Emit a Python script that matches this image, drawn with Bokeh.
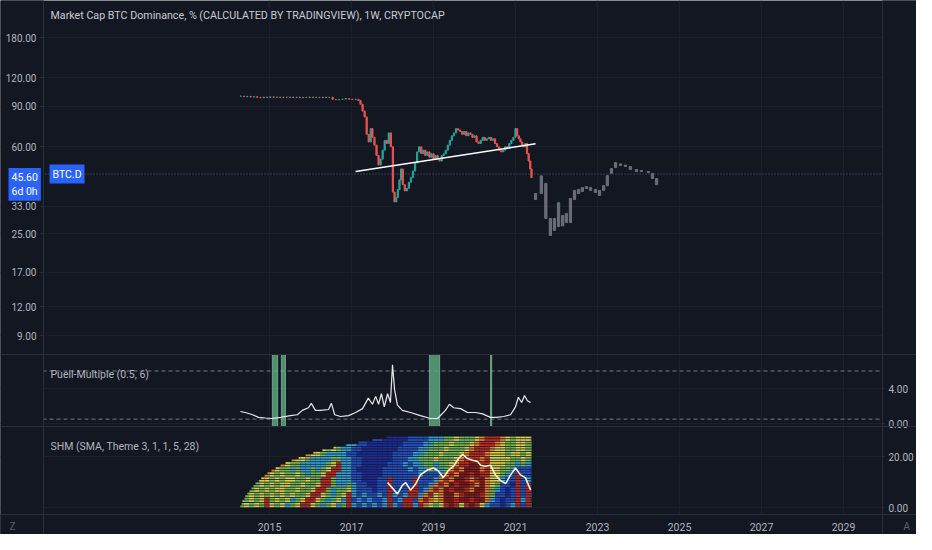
import math
from bokeh.plotting import figure
from bokeh.models import (Range1d, LinearScale, LinearAxis, FixedTicker, Span, Label,
                          Grid, ColumnDataSource, PrintfTickFormatter)
from bokeh.embed import file_html
from bokeh.resources import INLINE

# ---------------- data ----------------
title_text = "Market Cap BTC Dominance, % (CALCULATED BY TRADINGVIEW), 1W, CRYPTOCAP"
price_ticks = [9, 12, 17, 25, 33, 60, 90, 120, 180]
year_ticks = [2015, 2017, 2019, 2021, 2023, 2025, 2027, 2029]
last_value = 45.60
last_value_text = "45.60\n6d 0h"
symbol = "BTC.D"

btc_t = [2014.30, 2014.38, 2014.46, 2014.54, 2014.62, 2014.70, 2014.78, 2014.86, 2014.94,
         2015.02, 2015.10, 2015.18, 2015.26, 2015.34, 2015.42, 2015.50, 2015.58, 2015.66,
         2015.74, 2015.82, 2015.90, 2015.98, 2016.06, 2016.14, 2016.22, 2016.30, 2016.38,
         2016.46, 2016.54, 2016.62, 2016.70, 2016.78, 2016.86, 2016.94, 2017.02, 2017.10,
         2017.17, 2017.22, 2017.27, 2017.32, 2017.37, 2017.42, 2017.47, 2017.51, 2017.56,
         2017.61, 2017.66, 2017.71, 2017.76, 2017.81, 2017.86, 2017.91, 2017.96, 2018.01,
         2018.05, 2018.09, 2018.13, 2018.17, 2018.21, 2018.25, 2018.30, 2018.35, 2018.40,
         2018.45, 2018.50, 2018.55, 2018.60, 2018.65, 2018.70, 2018.75, 2018.80, 2018.85,
         2018.90, 2018.95, 2019.00, 2019.05, 2019.10, 2019.15, 2019.20, 2019.25, 2019.30,
         2019.35, 2019.40, 2019.45, 2019.50, 2019.55, 2019.60, 2019.65, 2019.70, 2019.75,
         2019.80, 2019.85, 2019.90, 2019.95, 2020.00, 2020.05, 2020.10, 2020.15, 2020.20,
         2020.25, 2020.30, 2020.35, 2020.40, 2020.45, 2020.50, 2020.55, 2020.60, 2020.65,
         2020.70, 2020.75, 2020.80, 2020.85, 2020.90, 2020.95, 2021.00, 2021.04, 2021.08,
         2021.12, 2021.16, 2021.20, 2021.24, 2021.28, 2021.32, 2021.36, 2021.39]
btc_close = [99.8, 99.2, 99.6, 99.0, 99.3, 98.6, 98.2, 98.9, 98.5,
             99.1, 98.7, 98.9, 98.4, 98.8, 98.6, 98.9, 98.5, 98.8,
             98.4, 98.7, 98.5, 98.9, 98.5, 98.7, 98.4, 98.8, 98.5,
             98.7, 96.6, 96.2, 96.6, 96.9, 97.5, 96.8, 96.4, 96.7,
             95.5, 92.0, 86.0, 81.0, 68.0, 63.0, 72.0, 66.0, 61.0,
             55.0, 50.0, 53.0, 58.0, 64.0, 62.0, 69.0, 60.0, 38.0,
             34.5, 36.0, 39.0, 43.0, 48.0, 41.0, 38.5, 39.5, 42.0,
             44.0, 47.0, 51.0, 57.0, 60.0, 56.0, 58.0, 55.0, 57.0,
             54.0, 56.0, 53.0, 55.0, 53.0, 52.0, 55.0, 56.0, 58.0,
             61.0, 64.0, 67.0, 69.0, 72.0, 71.0, 70.0, 68.0, 70.0,
             67.0, 69.0, 68.0, 66.0, 67.0, 63.0, 62.0, 64.0, 66.0,
             64.0, 65.0, 66.0, 64.0, 65.0, 62.0, 60.0, 58.0, 57.0,
             58.0, 60.0, 59.0, 62.0, 64.0, 66.0, 72.0, 67.0, 65.0,
             63.0, 61.0, 60.0, 62.0, 56.0, 52.0, 48.0, 44.0]

proj_t = [2021.49, 2021.63, 2021.74, 2021.85, 2021.95, 2022.05, 2022.15, 2022.24, 2022.34,
          2022.44, 2022.54, 2022.63, 2022.73, 2022.83, 2022.95, 2023.05, 2023.15, 2023.24,
          2023.34, 2023.44, 2023.56, 2023.68, 2023.80, 2023.95, 2024.07, 2024.24, 2024.34,
          2024.44]
proj_hi = [37.5, 44.8, 41.5, 29.2, 29.2, 34.2, 30.1, 30.7, 35.7,
           38.7, 39.1, 39.8, 40.2, 39.8, 39.1, 38.7, 40.6, 44.9,
           48.2, 51.2, 50.5, 49.9, 49.2, 47.7, 47.3, 46.8, 45.9, 43.6]
proj_lo = [35.3, 37.5, 29.2, 24.6, 25.9, 26.9, 27.1, 28.0, 28.0,
           35.3, 37.5, 38.3, 39.4, 38.7, 37.9, 36.8, 38.7, 40.6,
           46.0, 48.7, 49.7, 49.2, 47.7, 46.8, 46.8, 46.3, 43.6, 41.0]

trend_t = [2017.10, 2021.49]
trend_v = [46.8, 61.8]

puell_title = "Puell-Multiple (0.5, 6)"
puell_levels = [6.0, 0.5]
puell_ticks = [0, 4]
puell_t = [2014.29, 2014.41, 2014.59, 2014.73, 2014.90, 2015.07, 2015.27, 2015.51, 2015.68,
           2015.80, 2015.95, 2016.02, 2016.12, 2016.24, 2016.44, 2016.51, 2016.59, 2016.73,
           2016.93, 2017.10, 2017.27, 2017.41, 2017.51, 2017.59, 2017.66, 2017.73, 2017.80,
           2017.88, 2017.95, 2018.00, 2018.05, 2018.12, 2018.24, 2018.44, 2018.68, 2018.93,
           2019.10, 2019.29, 2019.39, 2019.49, 2019.66, 2019.83, 2020.02, 2020.20, 2020.29,
           2020.39, 2020.54, 2020.71, 2020.88, 2021.00, 2021.07, 2021.15, 2021.22, 2021.29,
           2021.37]
puell_v = [1.37, 1.26, 1.0, 0.7, 0.63, 0.57, 0.7, 0.9, 1.0,
           1.5, 1.8, 2.3, 1.5, 1.5, 1.6, 2.3, 1.0, 0.8,
           0.9, 1.26, 1.7, 2.9, 2.2, 3.1, 2.2, 3.4, 1.9,
           3.4, 2.4, 6.7, 3.9, 2.1, 1.5, 1.26, 0.9, 0.57,
           0.57, 1.5, 2.2, 1.8, 1.7, 1.26, 1.26, 1.1, 0.9,
           0.7, 0.7, 0.8, 1.0, 1.9, 3.0, 2.4, 3.2, 2.6,
           2.4]
puell_band_start = [2015.07, 2015.29, 2018.90, 2020.39]
puell_band_end = [2015.20, 2015.39, 2019.15, 2020.42]

shm_title = "SHM (SMA, Theme 3, 1, 1, 5, 28)"
shm_ticks = [0, 20]
shm_t = [2017.88, 2018.02, 2018.12, 2018.24, 2018.32, 2018.44, 2018.56, 2018.68, 2018.85,
         2019.00, 2019.12, 2019.24, 2019.37, 2019.49, 2019.61, 2019.71, 2019.83, 2019.95,
         2020.07, 2020.15, 2020.27, 2020.39, 2020.51, 2020.63, 2020.76, 2020.88, 2021.00,
         2021.12, 2021.24, 2021.37]
shm_v = [9.8, 7.2, 5.3, 8.7, 9.8, 6.8, 9.1, 12.8, 14.7,
         15.5, 14.3, 11.7, 14.7, 16.2, 19.2, 20.8, 19.2, 18.5,
         18.1, 16.6, 16.2, 16.6, 12.8, 10.6, 9.4, 12.8, 15.5,
         12.8, 11.7, 6.8]
shm_end = 2021.39
# first year of each of the 28 rows (row 1 = bottom)
shm_row_start = [2014.29, 2014.32, 2014.34, 2014.39, 2014.41, 2014.46, 2014.51, 2014.56,
                 2014.61, 2014.66, 2014.71, 2014.80, 2014.88, 2014.95, 2015.05, 2015.15,
                 2015.27, 2015.39, 2015.54, 2015.71, 2015.88, 2016.07, 2016.29, 2016.56,
                 2016.85, 2017.17, 2017.51, 2017.85]
shm_first_col = 2014.25
shm_col_step = 0.125
# colour level per 1/8-year column, one string per pair of rows, bottom first
shm_levels = [
    "3434354342" "3455432342" "3521212125" "2155256434" "5754575421" "10125152",
    "4343453434" "2345543234" "2512121125" "1255165646" "7757757762" "10115251",
    "3343434343" "4334554323" "4521211215" "2125526546" "7765777563" "11015152",
    "3334343443" "3433455323" "3421110115" "1115512656" "7577567763" "21015151",
    "3333434344" "3343345532" "2321100115" "1111511265" "6757756764" "31105151",
    "0000443434" "4334335532" "2211000115" "1111511126" "5677565764" "42115121",
    "0000064343" "3432334552" "2211000011" "1111121112" "6567757554" "43215111",
    "0000006433" "2322323455" "2210000011" "1112122322" "3656777654" "43321111",
    "0000000064" "3322222345" "2211000001" "1121223323" "3465577554" "44332322",
    "0000000000" "6443222233" "2211000000" "1112233343" "3346555654" "44433433",
    "0000000000" "0006443222" "2110000000" "1111223334" "3334655564" "44344344",
    "0000000000" "0000004343" "2211000000" "0111122333" "4333465556" "44334434",
    "0000000000" "0000000000" "0221100000" "0011112233" "3433346555" "64334434",
    "0000000000" "0000000000" "0000001100" "0001111222" "3343334655" "56434443",
]
shm_palette = ["#1c2c9c", "#2452c6", "#35a3d6", "#74ba52", "#d8d04c", "#c42b20",
               "#e5842d", "#8e1814"]

# ---------------- layout / style ----------------
BG = "#131722"
TXT = "#b2b5be"
GRID = "#1b1f2b"
SEP = "#2a2e39"
FONT = "Roboto"
UP, DOWN = "#26a69a", "#ef5350"

W, H = 916, 534
FL, FR, FB = 43, 882, 514          # plotting-area edges (px)
MAIN_BOTTOM, PUELL_BOTTOM = 354, 426

X_ANCHOR_PX, PX_PER_YEAR = 269, 41.0
def xval(px):
    return year_ticks[0] + (px - X_ANCHOR_PX) / PX_PER_YEAR

HI_PX, LO_PX = 37, 335
PPD = (LO_PX - HI_PX) / math.log10(price_ticks[-1] / price_ticks[0])
def main_val(py):
    return 10 ** (math.log10(price_ticks[-1]) - (py - HI_PX) / PPD)

P0_PX, P_PPU = 423, 8.75
def puell_val(py):
    return (P0_PX - py) / P_PPU

S0_PX, S_PPU = 507, 2.55
def shm_val(py):
    return (S0_PX - py) / S_PPU
def shm_px(v):
    return S0_PX - v * S_PPU

# the frame covers the whole canvas; axes are pinned at the pane edges
p = figure(width=W, height=H, x_range=Range1d(xval(0), xval(W)),
           y_range=Range1d(main_val(H), main_val(0)), y_axis_type="log",
           output_backend="svg", toolbar_location=None, min_border=0,
           background_fill_color=BG, border_fill_color=BG, outline_line_color=None)
p.extra_y_ranges = {"puell": Range1d(puell_val(H), puell_val(0)),
                    "shm": Range1d(shm_val(H), shm_val(0))}
p.extra_y_scales = {"puell": LinearScale(), "shm": LinearScale()}

# left (price) axis
ya = p.yaxis[0]
ya.fixed_location = xval(FL)
ya.ticker = FixedTicker(ticks=price_ticks)
ya.formatter = PrintfTickFormatter(format="%.2f")
ya.major_label_text_color = TXT
ya.major_label_text_font = FONT
ya.major_label_text_font_size = "10px"
ya.axis_line_color = SEP
ya.major_tick_line_color = SEP
ya.major_tick_out = 3
ya.major_tick_in = 0
ya.minor_tick_line_color = None
ya.minor_tick_out = 0
ya.major_label_standoff = 4

# time axis
xa = p.xaxis[0]
xa.fixed_location = main_val(FB)
xa.ticker = FixedTicker(ticks=year_ticks)
xa.formatter = PrintfTickFormatter(format="%d")
xa.major_label_text_color = TXT
xa.major_label_text_font = FONT
xa.major_label_text_font_size = "10.5px"
xa.axis_line_color = SEP
xa.major_tick_line_color = None
xa.major_tick_out = 0
xa.major_tick_in = 0
xa.minor_tick_line_color = None
xa.minor_tick_out = 0
xa.major_label_standoff = 8

# right axis for the two indicator panes
rticks = [float(v) for v in puell_ticks] + [puell_val(shm_px(v)) for v in shm_ticks]
rlabels = ["%.2f" % v for v in puell_ticks] + ["%.2f" % v for v in shm_ticks]
ra = LinearAxis(y_range_name="puell", ticker=FixedTicker(ticks=rticks),
                fixed_location=xval(FR),
                major_label_overrides={t: s for t, s in zip(rticks, rlabels)},
                major_label_text_color=TXT, major_label_text_font=FONT,
                major_label_text_font_size="10px", axis_line_color=SEP,
                major_tick_line_color=SEP, major_tick_out=2, major_tick_in=0,
                minor_tick_line_color=None, minor_tick_out=0, major_label_standoff=4)
p.add_layout(ra, "right")

# grids
p.xgrid.ticker = FixedTicker(ticks=year_ticks)
p.xgrid.grid_line_color = GRID
p.ygrid.ticker = ya.ticker
p.ygrid.grid_line_color = GRID
p.add_layout(Grid(dimension=1, ticker=ra.ticker, y_range_name="puell", grid_line_color=GRID))

# ---- main pane ----
p.add_layout(Span(location=last_value, dimension="width", line_color="#5a6682",
                  line_dash="1 2", line_width=1, level="underlay"))
btc_open = [btc_close[0]] + btc_close[:-1]
src = ColumnDataSource(dict(
    x=btc_t,
    top=[max(o, c) for o, c in zip(btc_open, btc_close)],
    bottom=[min(o, c) for o, c in zip(btc_open, btc_close)],
    color=[UP if c >= o else DOWN for o, c in zip(btc_open, btc_close)]))
p.vbar(x="x", top="top", bottom="bottom", width=0.03, source=src,
       fill_color="color", line_color="color", line_width=1)
p.vbar(x=proj_t, top=proj_hi, bottom=proj_lo, width=0.055,
       fill_color="#6a6d78", line_color="#6a6d78", line_width=1)
p.line(trend_t, trend_v, line_color="#ffffff", line_width=1.5)

# ---- Puell pane ----
p.quad(left=puell_band_start, right=puell_band_end,
       top=puell_val(MAIN_BOTTOM), bottom=puell_val(PUELL_BOTTOM), y_range_name="puell",
       fill_color="#5fae84", fill_alpha=0.8, line_color="#8fd0aa", line_alpha=0.6)
for lv in puell_levels:
    p.add_layout(Span(location=lv, dimension="width", y_range_name="puell",
                      line_color="#787b86", line_dash="4 3", line_width=1, level="underlay"))
p.line(puell_t, puell_v, y_range_name="puell", line_color="#e8e8ea", line_width=1.2)

# ---- SHM pane ----
cells = dict(left=[], right=[], bottom=[], top=[], color=[])
for k, start in enumerate(shm_row_start):
    lv = shm_levels[k // 2]
    for c, ch in enumerate(lv):
        c0 = shm_first_col + c * shm_col_step
        l = max(c0, start)
        r = min(c0 + shm_col_step, shm_end)
        if r <= l:
            continue
        cells["left"].append(l)
        cells["right"].append(r)
        cells["bottom"].append(k + 0.12)
        cells["top"].append(k + 0.80)
        cells["color"].append(shm_palette[int(ch)])
p.quad(left="left", right="right", bottom="bottom", top="top", fill_color="color",
       line_color=None, y_range_name="shm", source=ColumnDataSource(cells))
p.line(shm_t, shm_v, y_range_name="shm", line_color="#f6f0d2", line_width=1.6)

# ---- scale margins: keep grid lines out of the axis strips ----
x_lo, x_hi = xval(-2), xval(W + 2)
y_lo, y_hi = main_val(H + 2), main_val(-2)
p.quad(left=[x_lo, xval(FR)], right=[xval(FL), x_hi], bottom=[y_lo, y_lo],
       top=[y_hi, y_hi], fill_color=BG, line_color=None)
p.quad(left=[x_lo], right=[x_hi], bottom=[y_lo], top=[main_val(FB)],
       fill_color=BG, line_color=None)

# pane separators (full width)
for py in (MAIN_BOTTOM, PUELL_BOTTOM):
    p.add_layout(Span(location=puell_val(py), dimension="width", y_range_name="puell",
                      line_color=SEP, line_width=1))

# ---- texts ----
def lab(x, y, text, rng="default", **kw):
    opts = dict(text_color=TXT, text_font=FONT, text_font_size="11px",
                text_baseline="middle", y_range_name=rng)
    opts.update(kw)
    p.add_layout(Label(x=x, y=y, text=text, **opts))

lab(xval(50), main_val(15), title_text, text_font_size="10.7px", text_color="#c8cbd2")
lab(xval(50), puell_val(MAIN_BOTTOM + 20), puell_title, rng="puell", text_font_size="10.5px")
lab(xval(50), shm_val(PUELL_BOTTOM + 20), shm_title, rng="shm", text_font_size="10.5px")
lab(xval(8), last_value, last_value_text, text_color="#ffffff",
    text_baseline="top", y_offset=6, background_fill_color="#2962ff", padding=3,
    text_font_size="10.5px", text_line_height=1.05)
lab(xval(49), last_value, symbol, text_color="#ffffff", background_fill_color="#2962ff",
    padding=3, text_font_size="10.5px")
lab(xval(9), main_val(526), "Z", text_color="#5d606b", text_font_size="10px")
lab(xval(903), main_val(526), "A", text_color="#5d606b", text_font_size="10px")

open("out.html", "w").write(file_html(p, INLINE))
